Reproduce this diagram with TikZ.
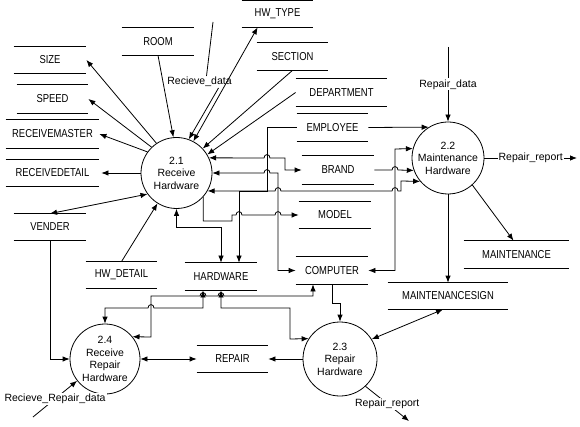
\documentclass[tikz,border=0pt]{standalone}
\usepackage{fontspec}
\setmainfont{Liberation Sans}
\newfontfamily\capsfont{Liberation Sans}[FakeStretch=0.82]
\usetikzlibrary{arrows.meta}
\newcommand\hopr[2]{-- ({#1-3},#2) .. controls ({#1-3},{#2-4.5}) and ({#1+3},{#2-4.5}) .. ({#1+3},#2)}
\newcommand\hopl[2]{-- ({#1+3},#2) .. controls ({#1+3},{#2-4.5}) and ({#1-3},{#2-4.5}) .. ({#1-3},#2)}
\begin{document}
\begin{tikzpicture}[x=1pt,y=-1pt, line width=0.8pt,
  flow/.style={-{Latex[length=7pt,width=5.5pt]}},
  bflow/.style={{Latex[length=7pt,width=5.5pt]}-{Latex[length=7pt,width=5.5pt]}},
  store/.style={inner sep=0pt, font=\capsfont\fontsize{11.5}{13}\selectfont},
  proc/.style={circle, draw, inner sep=0pt, align=center, font=\fontsize{10.5}{12.5}\selectfont},
  lbl/.style={fill=white, inner sep=1pt, font=\fontsize{10.5}{12.5}\selectfont}]
\fill[white] (0,0) rectangle (580,427);
\useasboundingbox (0,0) rectangle (580,427);

% processes
\node[proc, minimum size=71pt] (c21) at (176.5,173) {2.1\\Receive\\Hardware};
\node[proc, minimum size=72pt] (c22) at (448,158) {2.2\\Maintenance\\Hardware};
\node[proc, minimum size=74pt] (c23) at (340,359) {2.3\\Repair\\Hardware};
\node[proc, minimum size=70pt] (c24) at (105,359) {2.4\\Receive\\Repair\\Hardware};

% data stores
\node[store, minimum width=72pt, minimum height=26pt] (size) at (50,60) {SIZE};
\node[store, minimum width=71pt, minimum height=28pt] (speed) at (52.5,99) {SPEED};
\node[store, minimum width=93pt, minimum height=28pt] (rmaster) at (52.5,134) {RECEIVEMASTER};
\node[store, minimum width=93pt, minimum height=27pt] (rdetail) at (52.5,173) {RECEIVEDETAIL};
\node[store, minimum width=72pt, minimum height=27pt] (room) at (158,41.5) {ROOM};
\node[store, minimum width=71pt, minimum height=26pt] (hwtype) at (277.5,14) {HW\_TYPE};
\node[store, minimum width=71pt, minimum height=27pt] (section) at (292.5,56.5) {SECTION};
\node[store, minimum width=91pt, minimum height=27pt] (department) at (341.5,92.5) {DEPARTMENT};
\node[store, minimum width=71pt, minimum height=27pt] (employee) at (332.5,127.5) {EMPLOYEE};
\node[store, minimum width=72pt, minimum height=28pt] (brand) at (338,170) {BRAND};
\node[store, minimum width=72pt, minimum height=26pt] (model) at (335,215) {MODEL};
\node[store, minimum width=72pt, minimum height=27pt] (computer) at (332,270.5) {COMPUTER};
\node[store, minimum width=120pt, minimum height=26pt] (maintsign) at (448,296) {MAINTENANCESIGN};
\node[store, minimum width=105pt, minimum height=27pt] (maintenance) at (516.5,254.5) {MAINTENANCE};
\node[store, minimum width=72pt, minimum height=27pt] (hardware) at (221,276.5) {HARDWARE};
\node[store, minimum width=71pt, minimum height=26pt] (hwdetail) at (121.5,275) {HW\_DETAIL};
\node[store, minimum width=72pt, minimum height=26pt] (vender) at (50,227) {VENDER};
\node[store, minimum width=71pt, minimum height=26pt] (repair) at (232.5,359) {REPAIR};
\foreach \n in {size,speed,rmaster,rdetail,room,hwtype,section,department,employee,brand,model,computer,maintsign,maintenance,hardware,hwdetail,vender,repair}
  {\draw (\n.north west) -- (\n.north east) (\n.south west) -- (\n.south east);}

% free ends and labels
\coordinate (rd) at (213,22);
\node[lbl, fill=none] (rdl) at (199.5,82) {Recieve\_data};
\coordinate (rpd) at (448,47);
\coordinate (rr1) at (577,158);
\coordinate (rr2) at (409,421);
\coordinate (rrd) at (33,417);

% flows around 2.1
\draw[flow] (c21.124) -- (size.east);
\draw[flow] (c21.134) -- (speed.east);
\draw[flow] (c21.144) -- (rmaster.east);
\draw[flow] (c21.west) -- ([xshift=2pt]rdetail.east);
\draw[bflow] (vender.north) -- (c21.216);
\draw[flow] (hwdetail.north) -- (c21.238);
\draw[flow] (room.south) -- (c21.95);
\draw (rd) -- ([shift={(7,-6)}]rdl.center);
\draw[flow] ([shift={(19,6)}]rdl.center) -- (c21.70);
\draw[bflow] (c21.62) -- ([xshift=16pt]hwtype.south west);
\draw[flow] (section.south) -- (c21.43);
\draw[flow] (department.west) -- (c21.31);

\draw[bflow] (c21.25) \hopr{267}{158} -- (285,158) -- (285,170) -- (brand.west);
\draw[bflow] (c21.east) \hopr{267}{173} -- (278,173) -- (278,270.5) -- (computer.west);
\draw[bflow] (c21.330) \hopr{278}{191} \hopr{395}{191} -- (401,191) -- (401,181) -- (c22.220);
\draw[flow] (employee.west) -- (267,127.5) -- (267,191) -- (239,191) -- ([xshift=18pt]hardware.north);
\draw[flow] (c21.318) |- (232,221) -- (232,215) \hopr{239}{215} \hopr{278}{215} -- (model.west);
\draw[bflow] (c21.south) |- (221,227) -- (hardware.north);

% flows around 2.2
\draw[flow] (employee.east) -- (c22.122);
\draw[flow] (brand.east) \hopr{395}{170} -- (c22.200);
\draw[bflow] (computer.east) -- (395,270.5) -- (395,149) -- (c22.165);
\draw[flow] (rpd) -- (c22.north) node[lbl, pos=0.5] {Repair\_data};
\draw[flow] (c22.east) -- (rr1) node[lbl, midway] {Repair\_report};
\draw[flow] (c22.312) -- ([xshift=-3pt]maintenance.north);
\draw[flow] (c22.south) -- (maintsign.north);

% flows around 2.3
\draw[bflow] ([xshift=-5pt]maintsign.south) -- (c23.32);
\draw[flow] (computer.south) |- (340,303) -- (c23.north);
\draw[bflow] (hardware.south) -- (221,308) -- (290,308) -- (290,339) -- (c23.147);
\draw[flow] (c23.west) -- (repair.east);
\draw[flow] (c23.313) -- (rr2) node[lbl, midway] {Repair\_report};

% flows around 2.4
\draw[bflow] ([xshift=-18pt]hardware.south) -- (203,308) \hopl{151}{308} -- (105,308) -- (c24.north);
\draw[bflow] ([xshift=-19pt]computer.south) -- (313,296) \hopl{221}{296} \hopl{203}{296} -- (151,296) -- (151,337) -- (c24.39);
\draw[flow] (vender.south) |- (c24.west);
\draw[bflow] (c24.east) -- (repair.west);
\draw[flow] (rrd) -- (c24.218) node[lbl, midway] {Recieve\_Repair\_data};
\end{tikzpicture}
\end{document}
